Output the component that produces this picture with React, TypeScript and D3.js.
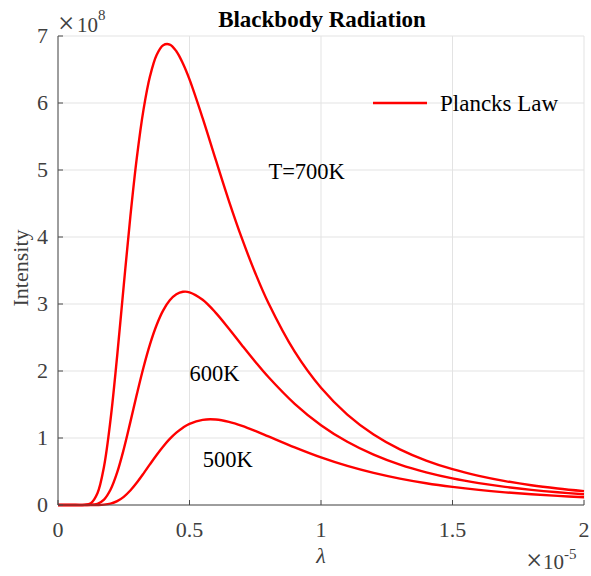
import React from "react";
import * as d3 from "d3";

// wavelength in units of 1e-5 m
const lambda = [0, 0.05, 0.1, 0.125, 0.15, 0.175, 0.2, 0.225, 0.25, 0.275, 0.3, 0.325, 0.35, 0.375, 0.4, 0.425, 0.45, 0.475, 0.5, 0.55, 0.6, 0.65, 0.7, 0.75, 0.8, 0.9, 1.0, 1.1, 1.2, 1.3, 1.4, 1.5, 1.6, 1.7, 1.8, 1.9, 2.0];
// intensity in units of 1e8
const t700 = [0, 0, 0.0014, 0.028, 0.176, 0.575, 1.281, 2.227, 3.279, 4.3, 5.191, 5.897, 6.402, 6.717, 6.863, 6.873, 6.772, 6.589, 6.352, 5.774, 5.15, 4.537, 3.971, 3.463, 3.015, 2.288, 1.749, 1.35, 1.053, 0.831, 0.663, 0.534, 0.435, 0.357, 0.295, 0.247, 0.207];
const t600 = [0, 0, 0, 0.0018, 0.0179, 0.0812, 0.231, 0.486, 0.833, 1.237, 1.656, 2.053, 2.402, 2.687, 2.905, 3.055, 3.145, 3.182, 3.175, 3.063, 2.868, 2.631, 2.382, 2.139, 1.91, 1.51, 1.191, 0.943, 0.751, 0.602, 0.487, 0.397, 0.327, 0.271, 0.226, 0.19, 0.161];
const t500 = [0, 0, 0, 0, 0.0007, 0.0052, 0.021, 0.058, 0.122, 0.216, 0.335, 0.469, 0.61, 0.747, 0.874, 0.986, 1.08, 1.154, 1.211, 1.271, 1.276, 1.241, 1.181, 1.106, 1.024, 0.86, 0.71, 0.583, 0.479, 0.394, 0.325, 0.27, 0.225, 0.189, 0.16, 0.136, 0.116];

const xTicks = [0, 0.5, 1, 1.5, 2];
const xTickLabels = ["0", "0.5", "1", "1.5", "2"];
const yTicks = [0, 1, 2, 3, 4, 5, 6, 7];
const yTickLabels = ["0", "1", "2", "3", "4", "5", "6", "7"];

const labels = [
  { text: "T=700K", x: 0.8, y: 4.86 },
  { text: "600K", x: 0.5, y: 1.85 },
  { text: "500K", x: 0.55, y: 0.57 },
];

export default function App() {
  const W = 591, H = 576;
  const L = 58, R = 584, T = 36, B = 505;
  const x = d3.scaleLinear().domain([0, 2]).range([L, R]);
  const y = d3.scaleLinear().domain([0, 7]).range([B, T]);
  const font = "Liberation Serif, Times New Roman, Times, serif";
  const line = d3
    .line<number>()
    .x((_, i) => x(lambda[i]))
    .y((d) => y(d))
    .curve(d3.curveCatmullRom.alpha(0.5));
  const series = [t700, t600, t500];
  const axisCol = "#4a4a4a";
  const tickCol = "#404040";
  const ts = { fontFamily: font };

  return (
    <svg width={W} height={H} style={{ position: "absolute", left: 0, top: 0, background: "#fff", fontFamily: font }}>
      <rect x={0} y={0} width={W} height={H} fill="#fff" />
      {/* grid */}
      {xTicks.map((t) => (
        <line key={"gx" + t} x1={x(t)} x2={x(t)} y1={T} y2={B} stroke="#e3e3e3" strokeWidth={1} />
      ))}
      {yTicks.map((t) => (
        <line key={"gy" + t} x1={L} x2={R} y1={y(t)} y2={y(t)} stroke="#e3e3e3" strokeWidth={1} />
      ))}
      {/* curves */}
      {series.map((s, i) => (
        <path key={i} d={line(s) || ""} fill="none" stroke="#ff0000" strokeWidth={2.4} />
      ))}
      {/* axes */}
      <line x1={L} x2={R} y1={B} y2={B} stroke={axisCol} strokeWidth={1} />
      <line x1={L} x2={L} y1={T} y2={B} stroke={axisCol} strokeWidth={1} />
      {xTicks.map((t, i) => (
        <g key={"xt" + t}>
          <line x1={x(t)} x2={x(t)} y1={B} y2={B - 5} stroke={axisCol} />
          <text x={x(t)} y={537} textAnchor="middle" fontSize={22} fill={tickCol} style={ts}>
            {xTickLabels[i]}
          </text>
        </g>
      ))}
      {yTicks.map((t, i) => (
        <g key={"yt" + t}>
          <line x1={L} x2={L + 5} y1={y(t)} y2={y(t)} stroke={axisCol} />
          <text x={L - 10} y={y(t)} dy="0.34em" textAnchor="end" fontSize={22} fill={tickCol} style={ts}>
            {yTickLabels[i]}
          </text>
        </g>
      ))}
      {/* exponent labels */}
      <text x={58} y={33} fontSize={29} fill={tickCol} style={ts}>×</text>
      <text x={77} y={32} fontSize={21} fill={tickCol} style={ts}>
        10
        <tspan dy={-12} fontSize={15}>8</tspan>
      </text>
      <text x={526} y={570} fontSize={29} fill={tickCol} style={ts}>×</text>
      <text x={543} y={569} fontSize={21} fill={tickCol} style={ts}>
        10
        <tspan dy={-10} fontSize={15}>-5</tspan>
      </text>
      {/* title */}
      <text x={322} y={27} textAnchor="middle" fontSize={23} fontWeight="bold" fill="#000" style={ts}>
        Blackbody Radiation
      </text>
      {/* axis labels */}
      <text x={321} y={563} textAnchor="middle" fontSize={22} fontStyle="italic" fill={tickCol} style={ts}>
        λ
      </text>
      <text transform={`translate(28,${268}) rotate(-90)`} textAnchor="middle" fontSize={22} fill={tickCol} style={ts}>
        Intensity
      </text>
      {/* legend */}
      <line x1={373} x2={427} y1={103} y2={103} stroke="#ff0000" strokeWidth={2.5} />
      <text x={440} y={111} fontSize={23} fill="#000" style={ts}>
        Plancks Law
      </text>
      {/* annotations */}
      {labels.map((l) => (
        <text key={l.text} x={x(l.x)} y={y(l.y)} fontSize={22.5} fill="#000" style={ts}>
          {l.text}
        </text>
      ))}
    </svg>
  );
}
